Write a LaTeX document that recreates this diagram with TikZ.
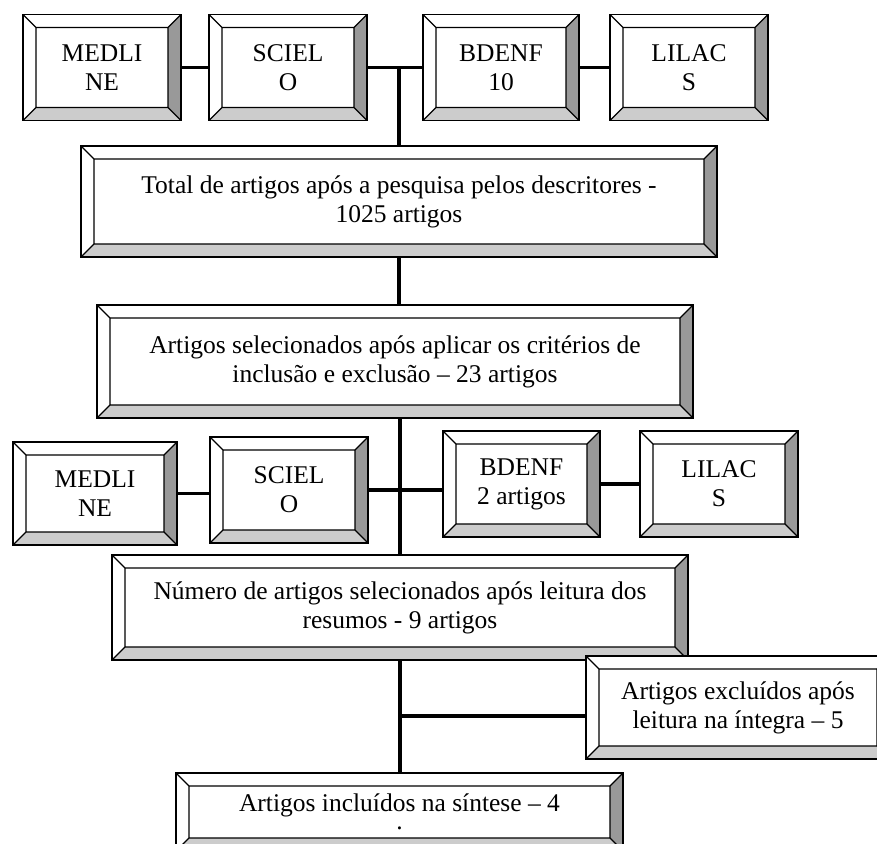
\documentclass[tikz,border=0pt]{standalone}
\usepackage{fontspec}
\setmainfont{Liberation Serif}
\definecolor{bevdark}{gray}{0.6}
\definecolor{bevlight}{gray}{0.8}
\def\bv{13pt}
\begin{document}
\begin{tikzpicture}[x=1pt, y=-1pt,
    link/.style={line width=3.4pt},
    bevel/.style={draw, line width=1.8pt, fill=white, align=center, inner sep=0pt,
        font=\fontsize{25.5}{29}\selectfont,
        path picture={
            \path (path picture bounding box.north east) coordinate (o1) ++(-\bv,-\bv) coordinate (i1)
                  (path picture bounding box.south east) coordinate (o2) ++(-\bv,\bv) coordinate (i2)
                  (path picture bounding box.south west) coordinate (o3) ++(\bv,\bv) coordinate (i3)
                  (path picture bounding box.north west) coordinate (o4) ++(\bv,-\bv) coordinate (i4);
            \fill[bevdark] (o1) -- (o2) -- (i2) -- (i1) -- cycle;
            \fill[bevlight] (o2) -- (o3) -- (i3) -- (i2) -- cycle;
            \draw[line width=1.3pt] (i1) -- (i2) -- (i3) -- (i4) -- cycle
                (o1) -- (i1) (o2) -- (i2) (o3) -- (i3) (o4) -- (i4);
        }},
    small/.style={bevel, minimum width=158pt, minimum height=106pt}]
    \useasboundingbox (0,0) rectangle (877,843);
    \clip (0,0) rectangle (877,843);
    % bases, first search
    \node[small] (med1) at (102,67.5) {MEDLI\\NE};
    \node[small] (sci1) at (288,67.5) {SCIEL\\O};
    \node[small, minimum width=156pt] (bde1) at (501,67.5) {BDENF\\10};
    \node[small] (lil1) at (689,67.5) {LILAC\\S};
    \node[bevel, minimum width=636pt, minimum height=111pt] (tot) at (399,201.5) {Total de artigos após a pesquisa pelos descritores -\\1025 artigos};
    \node[bevel, minimum width=596pt, minimum height=113pt] (sel) at (395,361.5) {Artigos selecionados após aplicar os critérios de\\inclusão e exclusão – 23 artigos};
    % bases, after criteria
    \node[small, minimum width=164pt, minimum height=103pt] (med2) at (95,493.5) {MEDLI\\NE};
    \node[small] (sci2) at (289,490) {SCIEL\\O};
    \node[small, minimum width=157pt] (bde2) at (521.5,484) {BDENF\\2 artigos};
    \node[small] (lil2) at (719,484) {LILAC\\S};
    \node[bevel, minimum width=576pt, minimum height=105pt] (num) at (400,607.5) {Número de artigos selecionados após leitura dos\\resumos - 9 artigos};
    \node[bevel, minimum width=304pt, minimum height=103pt] (exc) at (738,707.5) {Artigos excluídos após\\leitura na íntegra – 5};
    \node[bevel, minimum width=447pt, minimum height=78pt] (inc) at (399.5,812) {Artigos incluídos na síntese – 4\\[-11pt].};
    % connectors
    \draw[link] (med1) -- (sci1);
    \draw[link] (sci1) -- (bde1);
    \draw[link] (bde1) -- (lil1);
    \coordinate (j1) at (tot.north |- sci1.east);
    \draw[link] (j1) -- (tot.north);
    \draw[link] (tot.south) -- (tot.south |- sel.north);
    \draw[link] (med2.east) -- (med2.east -| sci2.west);
    \draw[link] (sci2.east) -- (sci2.east -| bde2.west);
    \draw[link] (bde2) -- (lil2);
    \draw[link] (num.north |- sel.south) -- (num.north);
    \draw[link] (num.south) -- (num.south |- inc.north);
    \coordinate (j3) at (num.south |- 0,716);
    \draw[link] (j3) -- (j3 -| exc.west);
\end{tikzpicture}
\end{document}
